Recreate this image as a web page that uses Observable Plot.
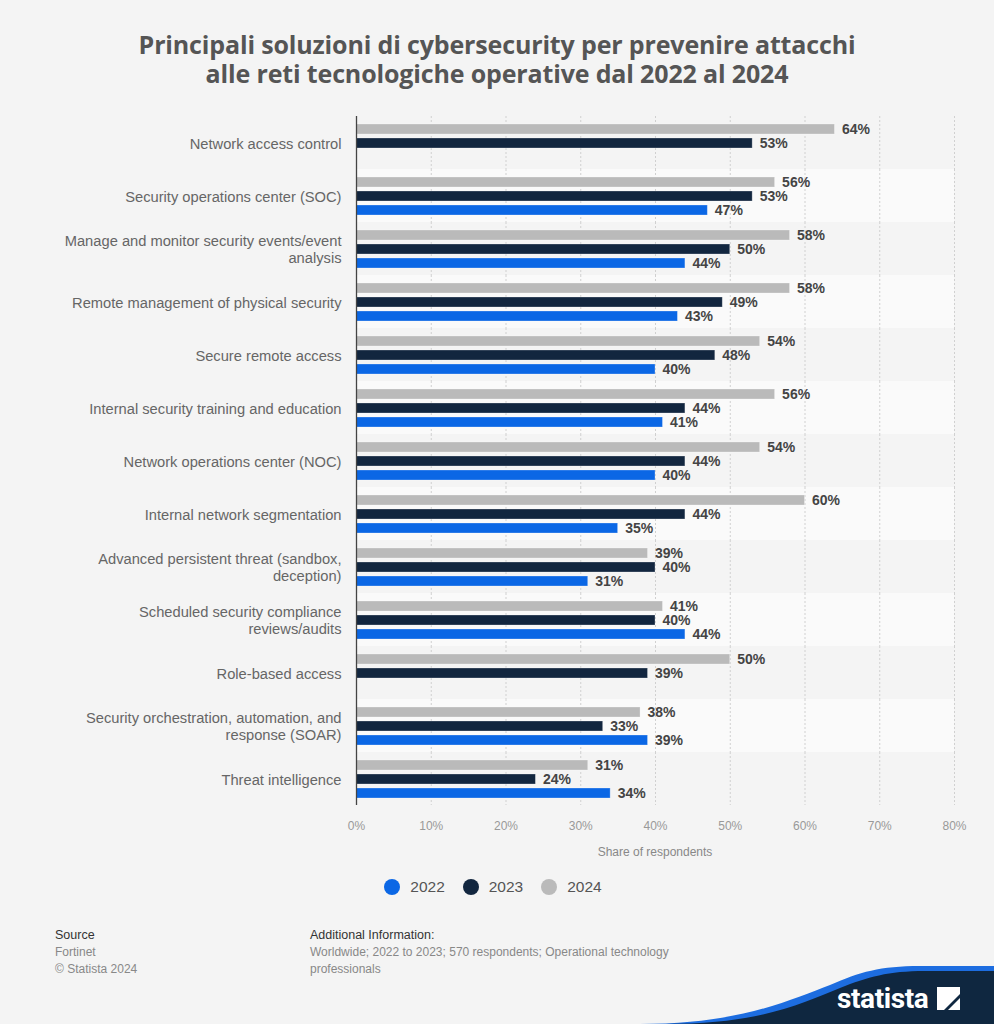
<!DOCTYPE html>
<html>
<head>
<meta charset="utf-8">
<script src="https://cdn.jsdelivr.net/npm/d3@7"></script>
<script src="https://cdn.jsdelivr.net/npm/@observablehq/plot@0.6"></script>
<style>
  html, body { margin: 0; padding: 0; background: #f4f4f4; }
  #wrap { position: relative; width: 994px; height: 1024px; background: #f4f4f4; overflow: hidden; font-family: "Liberation Sans", Arial, sans-serif; }
  .tl { position: absolute; left: 0; width: 994px; text-align: center; font-family: "Open Sans", Lato, sans-serif; font-weight: 700; font-size: 25px; line-height: 26px; height: 26px; color: #555; letter-spacing: -0.15px; white-space: nowrap; }
  #chart { position: absolute; top: 94px; left: 0; }
  #chart svg { display: block; }
  #xlabel { position: absolute; top: 845px; left: 356px; width: 598px; text-align: center; font-size: 12px; color: #888; }
  #legend { position: absolute; top: 878px; left: -4px; width: 994px; display: flex; justify-content: center; font-size: 15.5px; color: #555; }
  .li { display: flex; align-items: center; margin: 0 9px; }
  .dot { width: 16px; height: 16px; border-radius: 50%; margin-right: 10px; }
  .foot { position: absolute; font-size: 12px; line-height: 17px; color: #888; }
  .foot b { font-weight: normal; color: #333; font-size: 12.5px; }
</style>
</head>
<body>
<div id="wrap">
  <div class="tl" style="top:31px;">Principali soluzioni di cybersecurity per prevenire attacchi</div>
  <div class="tl" style="top:60px;">alle reti tecnologiche operative dal 2022 al 2024</div>
  <div id="chart"></div>
  <div id="xlabel">Share of respondents</div>
  <div id="legend"></div>
  <div class="foot" style="left:55px; top:927px;"><b>Source</b><br>Fortinet<br>© Statista 2024</div>
  <div class="foot" style="left:310px; top:927px;"><b>Additional Information:</b><br>Worldwide; 2022 to 2023; 570 respondents; Operational technology<br>professionals</div>
  <svg style="position:absolute; left:0; top:0;" width="994" height="1024">
    <path d="M 640 1024 C 740 1024 790 1000 830 985 C 860 972 880 966 920 966 L 994 966 L 994 1024 Z" fill="#1d6de0"/>
    <path d="M 665 1024 C 760 1024 800 1004 840 988 C 868 977 888 971 925 971 L 994 971 L 994 1024 Z" fill="#0f2740"/>
    <text x="837" y="1008" fill="#fff" font-family="Roboto, 'Liberation Sans', sans-serif" font-weight="700" font-size="28" letter-spacing="-0.4">statista</text>
    <path d="M 937 987 L 960 987 L 960 994 L 944 1010 L 937 1010 Z" fill="#fff"/>
    <path d="M 960 998 L 960 1010 L 948 1010 Z" fill="#fff"/>
  </svg>
</div>
<script>
const categories = [
  "Network access control",
  "Security operations center (SOC)",
  "Manage and monitor security events/event analysis",
  "Remote management of physical security",
  "Secure remote access",
  "Internal security training and education",
  "Network operations center (NOC)",
  "Internal network segmentation",
  "Advanced persistent threat (sandbox, deception)",
  "Scheduled security compliance reviews/audits",
  "Role-based access",
  "Security orchestration, automation, and response (SOAR)",
  "Threat intelligence"
];
const labelLines = [
  "Network access control",
  "Security operations center (SOC)",
  "Manage and monitor security events/event\nanalysis",
  "Remote management of physical security",
  "Secure remote access",
  "Internal security training and education",
  "Network operations center (NOC)",
  "Internal network segmentation",
  "Advanced persistent threat (sandbox,\ndeception)",
  "Scheduled security compliance\nreviews/audits",
  "Role-based access",
  "Security orchestration, automation, and\nresponse (SOAR)",
  "Threat intelligence"
];
const years = ["2022", "2023", "2024"];
const v2022 = [null, 47, 44, 43, 40, 41, 40, 35, 31, 44, null, 39, 34];
const v2023 = [53, 53, 50, 49, 48, 44, 44, 44, 40, 40, 39, 33, 24];
const v2024 = [64, 56, 58, 58, 54, 56, 54, 60, 39, 41, 50, 38, 31];
const colors = ["#0b67e5", "#12263f", "#bababa"];
const xTicks = [0, 10, 20, 30, 40, 50, 60, 70, 80];

const series = [v2022, v2023, v2024];
const data = [];
categories.forEach((c, i) => {
  years.forEach((y, j) => {
    const v = series[j][i];
    if (v != null) data.push({category: c, year: y, value: v});
  });
});
const bands = categories.map((c, i) => ({category: c, odd: i % 2 === 1}));
const labelOf = new Map(categories.map((c, i) => [c, labelLines[i]]));

const chart = Plot.plot({
  width: 994,
  height: 776,
  marginLeft: 356,
  marginRight: 40,
  marginTop: 20,
  marginBottom: 64,
  style: {background: "transparent", fontFamily: "'Liberation Sans', Arial, sans-serif"},
  x: {domain: [0, 80]},
  fy: {domain: categories, padding: 0},
  y: {domain: ["2024", "2023", "2022"], paddingInner: 0.31, paddingOuter: 0.48, axis: null},
  color: {domain: years, range: colors},
  marks: [
    Plot.rect(bands, {fy: "category", x1: 0, x2: 80, fill: d => d.odd ? "#fafafa" : "#f4f4f4"}),
    Plot.ruleX(xTicks.slice(1), {stroke: "#d0d0d0", strokeDasharray: "2,2", strokeWidth: 1}),
    Plot.barX(data, {fy: "category", y: "year", x: "value", fill: "year", stroke: "rgba(255,255,255,0.35)", strokeWidth: 0.8}),
    Plot.text(data, {fy: "category", y: "year", x: "value", text: d => d.value + "%", dx: 7, textAnchor: "start", fill: "#444", fontWeight: "bold", fontSize: 14}),
    Plot.ruleX([0], {stroke: "#444", strokeWidth: 1.3}),
    Plot.axisFy({anchor: "left", tickFormat: d => labelOf.get(d), tickSize: 0, tickPadding: 15, fontSize: 14.7, color: "#666", label: null, lineHeight: 1.2}),
    Plot.axisX({ticks: xTicks, tickFormat: d => d + "%", tickSize: 0, tickPadding: 16, fontSize: 12, color: "#999", label: null})
  ]
});
document.getElementById("chart").appendChild(chart);

const legend = document.getElementById("legend");
years.forEach((y, i) => {
  const li = document.createElement("div");
  li.className = "li";
  li.innerHTML = `<span class="dot" style="background:${colors[i]}"></span><span>${y}</span>`;
  legend.appendChild(li);
});
</script>
</body>
</html>
